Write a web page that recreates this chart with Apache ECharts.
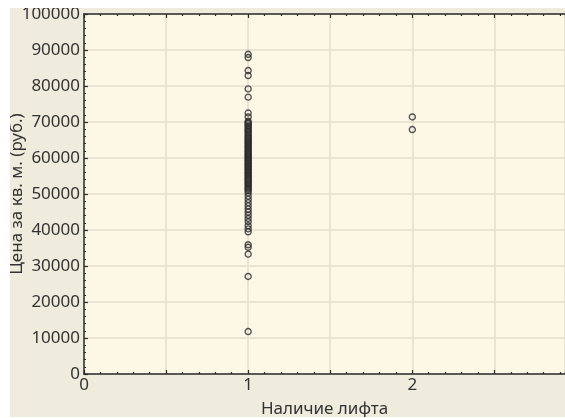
<!DOCTYPE html>
<html>
<head>
<meta charset="utf-8">
<script src="https://cdn.jsdelivr.net/npm/echarts@6/dist/echarts.min.js"></script>
<style>
  html, body {
    margin: 0;
    padding: 0;
    background: #ffffff;
  }
  .container {
    position: relative;
    width: 565px;
    height: 418px;
  }
  #chart {
    position: absolute;
    left: 10px;
    top: 8px;
    width: 555px;
    height: 409px;
  }
</style>
</head>
<body>
<div class="container">
  <div id="chart"></div>
</div>
<script>
// x = наличие лифта, y = цена за кв. м.
const liftOne = [
  88800, 87900, 84300, 82900, 79200, 76900, 72500, 71400,
  70200, 69800, 69500, 69000, 68700, 68200, 67800, 67500, 67000, 66600,
  66100, 65800, 65400, 65000, 64700, 64300, 64000, 63600, 63200, 62900,
  62500, 62100, 61800, 61400, 61000, 60700, 60300, 60000, 59600, 59300,
  58900, 58500, 58200, 57800, 57500, 57100, 56800, 56400, 56000, 55700,
  55300, 55000, 54600, 54200, 53900, 53500, 53100, 52800, 52400, 52000,
  51600, 51300, 50900,
  50300, 49400, 48500, 47600, 46700, 45800, 45000, 44100, 43200, 42300,
  41200, 40300, 39500,
  35900, 35200, 33300, 27100, 11800
]
const liftTwo = [71400, 67900]

const xName = 'Наличие лифта'
const yName = 'Цена за кв. м. (руб.)'

const textColor = '#333333'
const fontFamily = 'Noto Sans'
const fontSize = 17

const points = []
liftOne.forEach(v => points.push([1, v]))
liftTwo.forEach(v => points.push([2, v]))

const chartInstance = echarts.init(document.getElementById('chart'))

const axisLineStyle = {
  show: true,
  onZero: false,
  lineStyle: { color: '#2b2b2b', width: 1.5 }
}
const tickStyle = { show: true, inside: true, length: 4, lineStyle: { color: '#2b2b2b', width: 1.2 } }
const minorTickStyle = { show: true, splitNumber: 5, length: 2, lineStyle: { color: '#2b2b2b', width: 1.2 } }

const option = {
  backgroundColor: '#efebdd',
  animation: false,
  grid: {
    left: 74,
    top: 6,
    right: 0,
    bottom: 43,
    outerBoundsMode: 'none',
    containLabel: false,
    show: true,
    backgroundColor: '#fdf8e6',
    borderWidth: 0
  },
  xAxis: [
    {
      type: 'value',
      min: 0,
      max: 2.93,
      interval: 0.5,
      name: xName,
      nameLocation: 'middle',
      nameGap: 27,
      nameMoveOverlap: false,
      nameTextStyle: { color: textColor, fontSize: fontSize, fontFamily: fontFamily },
      axisLine: axisLineStyle,
      axisTick: tickStyle,
      minorTick: minorTickStyle,
      axisLabel: {
        color: textColor,
        fontSize: fontSize,
        fontFamily: fontFamily,
        margin: 3,
        showMaxLabel: false,
        formatter: v => (v % 1 === 0 ? String(v) : '')
      },
      splitLine: { show: true, lineStyle: { color: '#e3dfcd', width: 1.5 } }
    },
    {
      type: 'value',
      position: 'top',
      min: 0,
      max: 2.93,
      interval: 0.5,
      axisLine: axisLineStyle,
      axisTick: tickStyle,
      minorTick: minorTickStyle,
      axisLabel: { show: false },
      splitLine: { show: false }
    }
  ],
  yAxis: {
    type: 'value',
    min: 0,
    max: 100000,
    interval: 10000,
    name: yName,
    nameLocation: 'middle',
    nameGap: 58,
    nameMoveOverlap: false,
    nameTextStyle: { color: textColor, fontSize: fontSize, fontFamily: fontFamily },
    axisLine: axisLineStyle,
    axisTick: tickStyle,
    minorTick: minorTickStyle,
    axisLabel: {
      color: textColor,
      fontSize: fontSize,
      fontFamily: fontFamily,
      margin: 4,
      formatter: v => String(v)
    },
    splitLine: { show: true, lineStyle: { color: '#e3dfcd', width: 1.5 } }
  },
  series: [
    {
      type: 'scatter',
      xAxisIndex: 0,
      data: points,
      symbol: 'circle',
      symbolSize: 6,
      itemStyle: {
        color: 'rgba(0,0,0,0)',
        borderColor: '#2b2b2b',
        borderWidth: 1.4
      }
    }
  ]
}

chartInstance.setOption(option)
</script>
</body>
</html>
